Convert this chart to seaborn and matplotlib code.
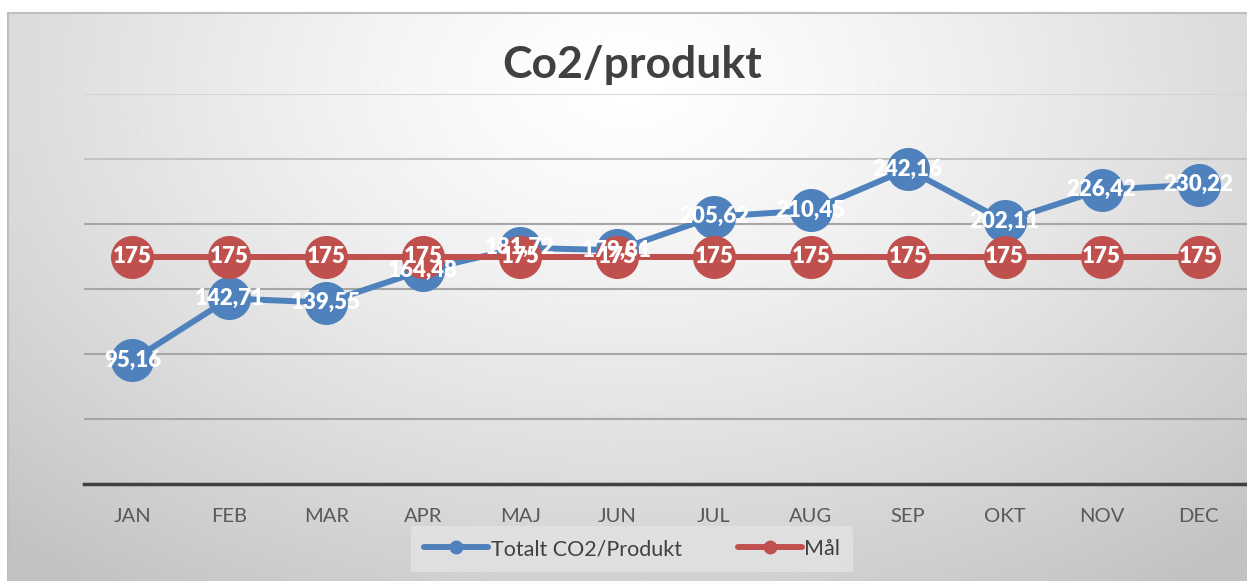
import numpy as np
import pandas as pd
import matplotlib.pyplot as plt
import seaborn as sns

# Data
months = ['JAN', 'FEB', 'MAR', 'APR', 'MAJ', 'JUN', 'JUL', 'AUG', 'SEP', 'OKT', 'NOV', 'DEC']
co2_per_product = [95.16, 142.71, 139.55, 164.48, 181.72, 179.81, 205.62, 210.45, 242.16, 202.11, 226.42, 230.22]
target = [175] * 12

blue = '#4F81BD'
red = '#C0504D'
text_dark = '#404040'

sns.set_theme(style='white')
plt.rcParams['font.family'] = ['Lato', 'DejaVu Sans']

fig = plt.figure(figsize=(12.47, 5.81), dpi=100, facecolor='white')

# chart area background: soft radial gradient, framed by a thin grey border
bg = fig.add_axes([8 / 1247, 0, 1 - 8 / 1247, (581 - 13) / 581], zorder=0)
yy, xx = np.mgrid[0:1:300j, 0:1:600j]
dist = np.sqrt(((xx - 0.5) / 0.75) ** 2 + ((yy - 0.12) / 1.1) ** 2)
shade = 1.0 - 0.24 * np.clip(dist, 0, 1) ** 1.3
bg.imshow(shade, cmap='gray', vmin=0, vmax=1, aspect='auto', extent=[0, 1, 1, 0])
bg.set_xticks([])
bg.set_yticks([])
for s in bg.spines.values():
    s.set_color('#bfbfbf')
    s.set_linewidth(1.5)
bg.spines['right'].set_visible(False)
bg.spines['bottom'].set_visible(False)

ax = fig.add_axes([84 / 1247, (581 - 484) / 581, 1 - 84 / 1247, (484 - 94) / 581], zorder=1)
ax.set_facecolor('none')

df = pd.DataFrame({'month': months, 'co2': co2_per_product, 'target': target})

sns.lineplot(data=df, x='month', y='co2', ax=ax, color=blue, linewidth=4.3,
             marker='o', markersize=31, markeredgewidth=0, sort=False,
             label='Totalt CO2/Produkt', zorder=3)
sns.lineplot(data=df, x='month', y='target', ax=ax, color=red, linewidth=4.3,
             marker='o', markersize=31, markeredgewidth=0, sort=False,
             label='Mål', zorder=4)

for i, v in enumerate(co2_per_product):
    ax.text(i, v, f'{v:.2f}'.replace('.', ','), ha='center', va='center',
            color='white', fontsize=16, fontweight='heavy', zorder=5)
for i, v in enumerate(target):
    ax.text(i, v, f'{v:g}', ha='center', va='center',
            color='white', fontsize=16, fontweight='heavy', zorder=6)

ax.set_xlim(-0.5, len(months) - 0.5)
ax.set_ylim(0, 300)
ax.set_yticks(range(0, 301, 50))
ax.yaxis.grid(True, color='#a6a6a6', linewidth=1.5)
ax.get_ygridlines()[-1].set_color('#d4d4d4')
ax.get_ygridlines()[-2].set_color('#c4c4c4')
ax.set_yticklabels([])
ax.tick_params(axis='y', length=0)
ax.tick_params(axis='x', length=0, labelsize=14.5, labelcolor='#595959', pad=17)
ax.set_xlabel('')
ax.set_ylabel('')
for s in ['top', 'right', 'left']:
    ax.spines[s].set_visible(False)
ax.spines['bottom'].set_color(text_dark)
ax.spines['bottom'].set_linewidth(2.5)
ax.set_axisbelow(True)
for ln in ax.lines:
    ln.set_clip_on(False)

fig.text(632 / 1247, 1 - 65 / 581, 'Co2/produkt', ha='center', va='center',
         fontsize=32, fontweight='bold', color=text_dark)

leg = ax.legend(loc='center', bbox_to_anchor=(632 / 1247, 1 - 549 / 581),
                bbox_transform=fig.transFigure, ncol=2, frameon=True,
                fontsize=15.5, handlelength=3.0, handletextpad=0.1, columnspacing=2.6,
                facecolor='#e3e3e3', edgecolor='none', borderpad=0.6, fancybox=False)
for h in leg.legend_handles:
    h.set_markersize(10)
for t in leg.get_texts():
    t.set_color(text_dark)

fig.savefig('out.png', dpi=100, facecolor='white')
